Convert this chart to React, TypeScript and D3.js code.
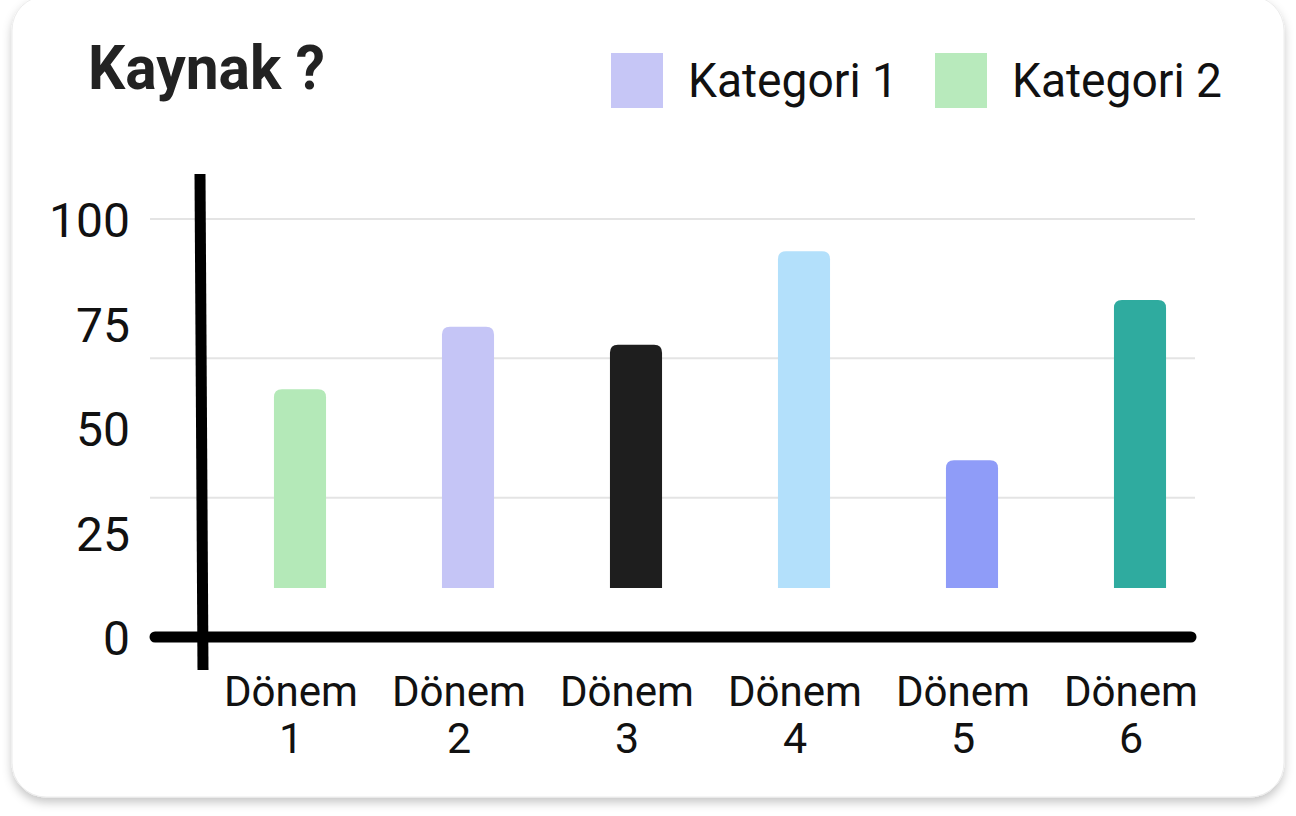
import { useRef, useEffect } from "react";
import * as d3 from "d3";

const categories = ["Dönem 1", "Dönem 2", "Dönem 3", "Dönem 4", "Dönem 5", "Dönem 6"];
const values = [59.3, 74.2, 69.9, 92.3, 42.3, 80.6];
const barBase = 11.7;
const barColors = ["#b4e9b8", "#c5c5f6", "#1e1e1e", "#b3e0fb", "#8f9cf8", "#2fab9f"];
const yTicks = [0, 25, 50, 75, 100];
const gridValues = [100, 200 / 3, 100 / 3];
const legendLabels = ["Kategori 1", "Kategori 2"];
const legendColors = ["#c6c6f6", "#b8eabc"];

const W = 1296;
const H = 816;

function BarCard() {
  const svgRef = useRef<SVGSVGElement | null>(null);

  useEffect(() => {
    const svg = d3.select(svgRef.current);
    svg.selectAll("*").remove();

    const font = "Roboto, 'Noto Sans', sans-serif";

    const x = d3.scaleBand<string>()
      .domain(categories)
      .range([216, 1224])
      .paddingInner(0.69)
      .paddingOuter(0.345);
    const y = d3.scaleLinear().domain([0, 100]).range([637, 219]);

    // card + shadow
    const defs = svg.append("defs");
    const shadow = defs.append("filter").attr("id", "card-shadow")
      .attr("x", "-5%").attr("y", "-5%").attr("width", "110%").attr("height", "115%");
    shadow.append("feDropShadow")
      .attr("dx", 0).attr("dy", 5)
      .attr("stdDeviation", 5)
      .attr("flood-color", "#000")
      .attr("flood-opacity", 0.22);

    svg.append("rect").attr("width", W).attr("height", H).attr("fill", "#ffffff");
    svg.append("rect")
      .attr("x", 12).attr("y", -4)
      .attr("width", 1272).attr("height", 801)
      .attr("rx", 34)
      .attr("fill", "#ffffff")
      .attr("stroke", "#ececec")
      .attr("stroke-width", 1)
      .attr("filter", "url(#card-shadow)");

    // title
    svg.append("text")
      .attr("x", 88).attr("y", 89)
      .attr("font-family", font)
      .attr("font-weight", 700)
      .attr("font-size", 62)
      .attr("textLength", 237)
      .attr("lengthAdjust", "spacingAndGlyphs")
      .attr("fill", "#222")
      .text("Kaynak ?");

    // legend
    const legendX = [611, 935];
    legendLabels.forEach((lab, i) => {
      svg.append("rect")
        .attr("x", legendX[i]).attr("y", 53)
        .attr("width", 52).attr("height", 55)
        .attr("fill", legendColors[i]);
      svg.append("text")
        .attr("x", legendX[i] + 77).attr("y", 97)
        .attr("font-family", font)
        .attr("font-size", 48)
        .attr("textLength", 210)
        .attr("lengthAdjust", "spacingAndGlyphs")
        .attr("fill", "#111")
        .text(lab);
    });

    // grid
    svg.append("g").selectAll("line")
      .data(gridValues)
      .join("line")
      .attr("x1", 150).attr("x2", 1195)
      .attr("y1", d => y(d)).attr("y2", d => y(d))
      .attr("stroke", "#e4e4e4")
      .attr("stroke-width", 2);

    // y labels
    svg.append("g").selectAll("text")
      .data(yTicks)
      .join("text")
      .attr("x", 130)
      .attr("y", d => y(d) + 18)
      .attr("text-anchor", "end")
      .attr("font-family", font)
      .attr("font-size", 48)
      .attr("fill", "#111")
      .text(d => String(d));

    // bars (rounded top)
    const bw = x.bandwidth();
    const r = 8;
    svg.append("g").selectAll("path")
      .data(values)
      .join("path")
      .attr("d", (v, i) => {
        const x0 = x(categories[i]) as number;
        const top = y(v);
        const bot = y(barBase);
        return `M${x0},${bot}V${top + r}Q${x0},${top} ${x0 + r},${top}H${x0 + bw - r}Q${x0 + bw},${top} ${x0 + bw},${top + r}V${bot}Z`;
      })
      .attr("fill", (_, i) => barColors[i]);

    // axes
    svg.append("line")
      .attr("x1", 155).attr("x2", 1191)
      .attr("y1", y(0)).attr("y2", y(0))
      .attr("stroke", "#000")
      .attr("stroke-width", 11)
      .attr("stroke-linecap", "round");
    svg.append("line")
      .attr("x1", 200).attr("x2", 203)
      .attr("y1", 174).attr("y2", 670)
      .attr("stroke", "#000")
      .attr("stroke-width", 11);

    // x labels
    const xl = svg.append("g").selectAll("text")
      .data(categories)
      .join("text")
      .attr("text-anchor", "middle")
      .attr("font-family", font)
      .attr("font-size", 43)
      .attr("fill", "#111");
    xl.each(function (d) {
      const cx = (x(d) as number) + bw / 2 - 9;
      const parts = d.split(" ");
      const t = d3.select(this);
      t.append("tspan").attr("x", cx).attr("y", 706).attr("textLength", 134)
        .attr("lengthAdjust", "spacingAndGlyphs").text(parts[0]);
      t.append("tspan").attr("x", cx).attr("y", 753).text(parts[1]);
    });
  }, []);

  return (
    <svg
      ref={svgRef}
      width={W}
      height={H}
      style={{ position: "absolute", left: 0, top: 0, display: "block" }}
    />
  );
}

export default function App() {
  return <BarCard />;
}
